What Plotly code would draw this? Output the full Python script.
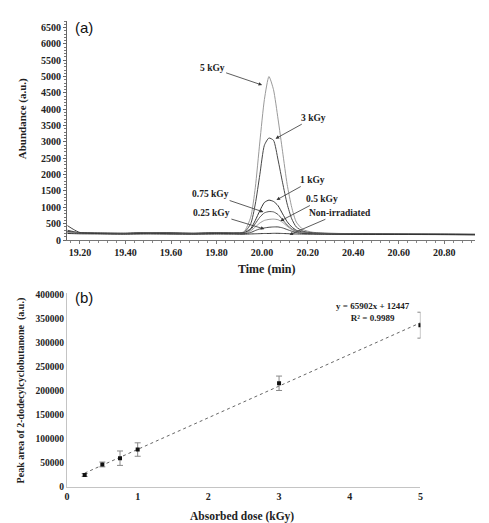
import plotly.graph_objects as go

# ---------------- Panel (a): chromatograms ----------------
time_min = [19.145, 19.17, 19.20, 19.30, 19.40, 19.50, 19.60, 19.70, 19.80, 19.88,
            19.92, 19.95, 19.97, 19.99, 20.01, 20.03, 20.05, 20.07, 20.09, 20.11,
            20.13, 20.15, 20.18, 20.22, 20.28, 20.40, 20.60, 20.80, 20.935]

ab_5kGy = [250, 230, 215, 210, 205, 225, 215, 205, 220, 215,
           250, 700, 1600, 3000, 4300, 5000, 4600, 3700, 2700, 1700,
           1000, 550, 320, 240, 210, 195, 185, 180, 175]
ab_3kGy = [300, 260, 225, 215, 210, 230, 220, 210, 225, 215,
           230, 500, 1100, 2000, 2900, 3120, 3050, 2450, 1750, 1100,
           650, 400, 270, 220, 205, 195, 185, 180, 175]
ab_1kGy = [260, 240, 220, 205, 200, 220, 210, 200, 215, 210,
           220, 350, 600, 900, 1150, 1220, 1180, 1050, 800, 560,
           400, 300, 240, 210, 200, 190, 180, 175, 170]
ab_075kGy = [240, 225, 210, 200, 195, 215, 205, 195, 210, 205,
             210, 320, 500, 700, 830, 870, 860, 780, 620, 460,
             340, 270, 230, 200, 195, 185, 178, 172, 168]
ab_05kGy = [230, 220, 205, 200, 195, 210, 200, 195, 205, 200,
            200, 280, 400, 520, 600, 630, 640, 620, 540, 420,
            320, 260, 220, 200, 190, 182, 176, 170, 165]
ab_025kGy = [440, 330, 230, 195, 190, 205, 195, 190, 200, 195,
             190, 230, 290, 340, 370, 390, 400, 400, 370, 320,
             270, 230, 200, 190, 185, 178, 172, 168, 163]
ab_nonirr = [200, 195, 190, 185, 180, 185, 180, 178, 182, 180,
             180, 185, 190, 195, 200, 200, 205, 205, 200, 195,
             190, 185, 182, 180, 178, 175, 170, 165, 160]

series_a = [
    ("5 kGy", ab_5kGy, "#9a9a9a"),
    ("3 kGy", ab_3kGy, "#474747"),
    ("1 kGy", ab_1kGy, "#333333"),
    ("0.75 kGy", ab_075kGy, "#555555"),
    ("0.5 kGy", ab_05kGy, "#9a9a9a"),
    ("0.25 kGy", ab_025kGy, "#444444"),
    ("Non-irradiated", ab_nonirr, "#333333"),
]

# ---------------- Panel (b): calibration ----------------
dose_kGy = [0.25, 0.5, 0.75, 1.0, 3.0, 5.0]
peak_area = [25000, 47000, 60000, 78000, 216000, 337000]
peak_err = [3000, 5000, 15000, 14000, 15000, 27000]
fit_slope = 65902
fit_intercept = 12447
fit_r2 = 0.9989

y_ticks_a = list(range(0, 7000, 500))
y_ticks_b = list(range(0, 400001, 50000))
x_ticks_a = [19.20, 19.40, 19.60, 19.80, 20.00, 20.20, 20.40, 20.60, 20.80]
x_ticks_b = [0, 1, 2, 3, 4, 5]

SERIF = "Liberation Serif"
SANS = "Liberation Sans"

fig = go.Figure()

for name, vals, col in series_a:
    fig.add_trace(go.Scatter(x=time_min, y=vals, mode="lines", name=name,
                             line=dict(color=col, width=1, shape="spline", smoothing=0.6),
                             xaxis="x", yaxis="y", showlegend=False))

fit_x = [dose_kGy[0], dose_kGy[-1]]
fit_y = [fit_slope * v + fit_intercept for v in fit_x]
fig.add_trace(go.Scatter(x=fit_x, y=fit_y, mode="lines",
                         line=dict(color="#666666", width=1, dash="dot"),
                         xaxis="x2", yaxis="y2", showlegend=False))
fig.add_trace(go.Scatter(x=dose_kGy, y=peak_area, mode="markers",
                         marker=dict(symbol="square", size=4, color="#111111"),
                         error_y=dict(type="data", array=peak_err, visible=True,
                                      color="#888888", thickness=1, width=3),
                         xaxis="x2", yaxis="y2", showlegend=False))

tickfont = dict(family=SERIF, size=10, color="#222222", weight="bold")

fig.update_layout(
    width=489, height=523,
    margin=dict(l=67, r=11, t=21, b=36),
    paper_bgcolor="white", plot_bgcolor="white",
    xaxis=dict(domain=[0, 1], range=[19.143, 20.935], tickvals=x_ticks_a,
               ticktext=[f"{v:.2f}" for v in x_ticks_a],
               showgrid=False, zeroline=False, showline=True, linecolor="#777777",
               linewidth=1, ticks="outside", ticklen=3, tickcolor="#777777",
               minor=dict(ticks="outside", dtick=0.04, ticklen=2, tickcolor="#888888"),
               tickfont=tickfont, anchor="y"),
    yaxis=dict(domain=[0.530, 1], range=[0, 6700], tickvals=y_ticks_a,
               ticktext=[str(v) for v in y_ticks_a],
               showgrid=False, zeroline=False, showline=True, linecolor="#666666",
               linewidth=1, ticks="outside", ticklen=3, tickcolor="#666666",
               minor=dict(ticks="outside", dtick=100, ticklen=2, tickcolor="#777777"),
               tickfont=tickfont, anchor="x"),
    xaxis2=dict(domain=[0, 0.8662], range=[0, 5], tickvals=x_ticks_b,
                ticktext=[str(v) for v in x_ticks_b],
                showgrid=False, zeroline=False, showline=True, linecolor="#c4c4c4",
                linewidth=1, ticks="", tickfont=tickfont, anchor="y2"),
    yaxis2=dict(domain=[0, 0.4163], range=[0, 404000], tickvals=y_ticks_b,
                ticktext=[str(v) for v in y_ticks_b],
                showgrid=False, zeroline=False, showline=True, linecolor="#c4c4c4",
                linewidth=1, ticks="", tickfont=dict(family=SERIF, size=9.5, color="#222222", weight="bold"),
                anchor="x2"),
)

ann_font = dict(family=SERIF, size=9.5, color="#222222", weight="bold")
arrows = [
    ("5 kGy", 20.000, 4740, -50, -17),
    ("3 kGy", 20.059, 3100, 38, -21),
    ("1 kGy", 20.063, 1224, 36, -20),
    ("0.75 kGy", 20.006, 857, -53, -18),
    ("0.5 kGy", 20.080, 581, 42, -22),
    ("0.25 kGy", 20.010, 336, -53, -16),
    ("Non-irradiated", 20.120, 160, 51, -22),
]
for txt, x, y, ax, ay in arrows:
    fig.add_annotation(x=x, y=y, xref="x", yref="y", text=txt, showarrow=True,
                       ax=ax, ay=ay, arrowhead=2, arrowsize=0.9, arrowwidth=0.8,
                       arrowcolor="#333333", font=ann_font)

fig.add_annotation(x=0.0146, y=0.985, xref="paper", yref="paper", text="(a)",
                   showarrow=False, xanchor="left", yanchor="middle",
                   font=dict(family=SANS, size=15, color="#111111"))
fig.add_annotation(x=0.0146, y=0.4056, xref="paper", yref="paper", text="(b)",
                   showarrow=False, xanchor="left", yanchor="middle",
                   font=dict(family=SANS, size=15, color="#111111"))

fig.add_annotation(x=-0.107, y=0.79, xref="paper", yref="paper", text="Abundance (a.u.)",
                   textangle=-90, showarrow=False, xanchor="center", yanchor="middle",
                   font=dict(family=SERIF, size=11, color="#222222", weight="bold"))
fig.add_annotation(x=0.489, y=0.468, xref="paper", yref="paper", text="Time (min)",
                   showarrow=False, xanchor="center", yanchor="middle",
                   font=dict(family=SERIF, size=12, color="#222222", weight="bold"))
fig.add_annotation(x=-0.112, y=0.208, xref="paper", yref="paper",
                   text="Peak area of 2-dodecylcyclobutanone  (a.u.)",
                   textangle=-90, showarrow=False, xanchor="center", yanchor="middle",
                   font=dict(family=SERIF, size=10, color="#222222", weight="bold"))
fig.add_annotation(x=0.428, y=-0.064, xref="paper", yref="paper", text="Absorbed dose (kGy)",
                   showarrow=False, xanchor="center", yanchor="middle",
                   font=dict(family=SERIF, size=11.5, color="#222222", weight="bold"))
fig.add_annotation(x=0.749, y=0.376, xref="paper", yref="paper",
                   text=f"y = {fit_slope}x + {fit_intercept}<br>R² = {fit_r2}",
                   showarrow=False, xanchor="center", yanchor="middle",
                   font=dict(family=SERIF, size=9, color="#222222", weight="bold"))

fig.write_html("out.html")
